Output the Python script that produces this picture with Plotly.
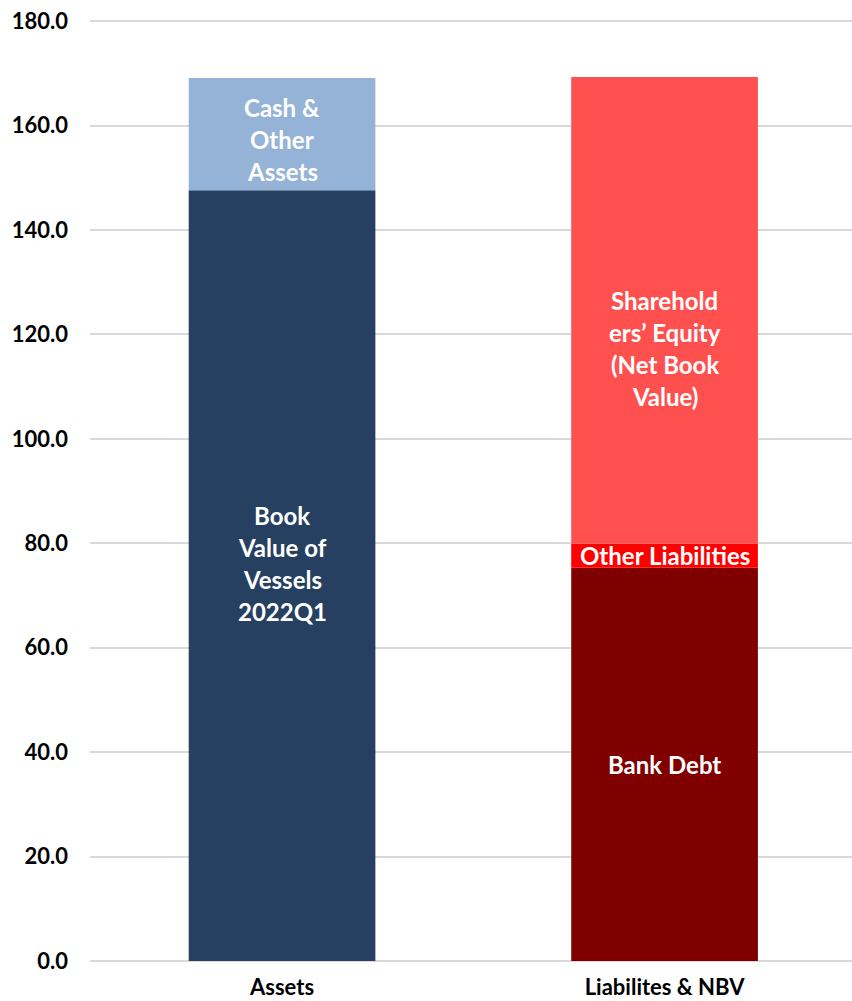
import plotly.graph_objects as go

categories = ["Assets", "Liabilites & NBV"]

# stacked segment values per category
book_value_vessels = [147.6, 0]
cash_other_assets = [21.5, 0]
bank_debt = [0, 75.3]
other_liabilities = [0, 4.6]
shareholders_equity = [0, 89.4]

y_ticks = [0, 20, 40, 60, 80, 100, 120, 140, 160, 180]

# (name, values, colour, label lines, label pixel offset)
segments = [
    ("Book Value of Vessels 2022Q1", book_value_vessels, "#264061",
     ["Book", "Value of", "Vessels", "2022Q1"], 12),
    ("Cash & Other Assets", cash_other_assets, "#95B3D7",
     ["Cash &", "Other", "Assets"], -5),
    ("Bank Debt", bank_debt, "#800000", ["Bank Debt"], 0),
    ("Other Liabilities", other_liabilities, "#FF0000", ["Other Liabilities"], 0),
    ("Shareholders' Equity (Net Book Value)", shareholders_equity, "#FF5050",
     ["Sharehold", "ers\u2019 Equity", "(Net Book", "Value)"], -38),
]

FONT = "Lato"
LINE_PX = 32

fig = go.Figure()
base = [0.0] * len(categories)
annotations = []
for name, vals, color, lines, offset in segments:
    fig.add_trace(go.Bar(
        x=list(range(len(categories))), y=vals, base=base[:], name=name,
        marker=dict(color=color, line=dict(width=0)),
        width=0.488, hoverinfo="skip",
    ))
    for i, v in enumerate(vals):
        if v <= 0:
            continue
        mid = base[i] + v / 2
        n = len(lines)
        for k, line in enumerate(lines):
            shift = ((n - 1) / 2 - k) * LINE_PX + offset
            annotations.append(dict(
                x=i, y=mid, xref="x", yref="y", text=line, showarrow=False,
                yshift=shift, font=dict(family=FONT, size=24, color="white", weight="bold"),
                xanchor="center", yanchor="middle",
            ))
    base = [b + v for b, v in zip(base, vals)]

fig.update_layout(
    barmode="overlay",
    width=852, height=1001,
    margin=dict(l=90, r=0, t=19, b=40),
    paper_bgcolor="white", plot_bgcolor="white",
    showlegend=False,
    annotations=annotations,
    font=dict(family=FONT, color="#000000"),
    xaxis=dict(
        range=[-0.502, 1.49],
        tickmode="array", tickvals=list(range(len(categories))), ticktext=categories,
        showgrid=False, zeroline=False, showline=False, ticks="",
        tickfont=dict(family=FONT, size=22, color="#000000", weight="bold"),
        ticklabelstandoff=11,
    ),
    yaxis=dict(
        range=[0, 180.4],
        tickmode="array", tickvals=y_ticks, ticktext=[f"{t:.1f}" for t in y_ticks],
        showgrid=True, gridcolor="#D9D9D9", gridwidth=2,
        zeroline=True, zerolinecolor="#D9D9D9", zerolinewidth=2,
        showline=False, ticks="",
        tickfont=dict(family=FONT, size=22, color="#000000", weight="bold"),
        ticklabelstandoff=21,
    ),
)

fig.write_html("out.html")
